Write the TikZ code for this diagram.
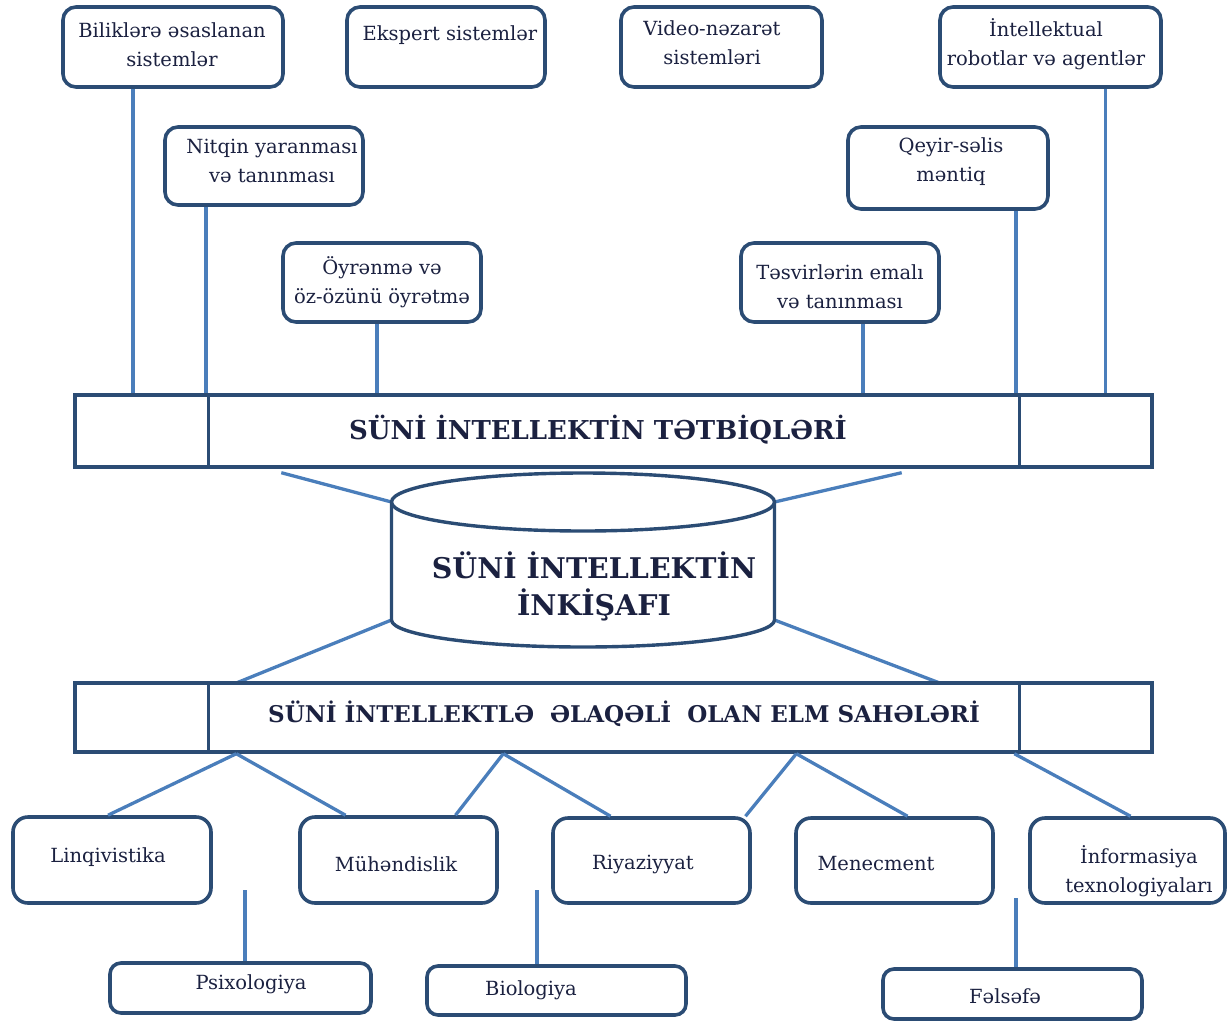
\documentclass[tikz,border=0pt]{standalone}
\usepackage{fontspec}
\setmainfont{DejaVu Serif}
\usetikzlibrary{calc}
\definecolor{boxline}{HTML}{2B4C74}
\definecolor{linkline}{HTML}{4A7EBB}
\definecolor{inktext}{HTML}{1B2140}
\tikzset{
  card/.style={draw=boxline, line width=3.6pt, rounded corners=13pt, fill=white},
  bar/.style={draw=boxline, line width=3.4pt, fill=white},
  divider/.style={draw=boxline, line width=3.4pt},
  lbl/.style={text=inktext, align=center, inner sep=0pt,
    font=\fontsize{19.5}{29}\selectfont},
  ttl/.style={text=inktext, align=center, inner sep=0pt,
    font=\fontsize{26}{37}\selectfont\bfseries},
  link/.style={draw=linkline, line width=3.3pt},
}
\begin{document}
\begin{tikzpicture}[x=1pt, y=-1pt]
\useasboundingbox (0,0) rectangle (1227,1021);

% ---- application cards ----
\node[card, minimum width=220pt, minimum height=80pt] (b1) at (173,47) {};
\node[card, minimum width=198pt, minimum height=80pt] (b2) at (446,47) {};
\node[card, minimum width=201pt, minimum height=80pt] (b3) at (721.5,47) {};
\node[card, minimum width=221pt, minimum height=80pt] (b4) at (1050.5,47) {};
\node[card, minimum width=198pt, minimum height=78pt] (b5) at (264,166) {};
\node[card, minimum width=200pt, minimum height=82pt] (b6) at (948,168) {};
\node[card, minimum width=198pt, minimum height=79pt] (b7) at (382,282.5) {};
\node[card, minimum width=198pt, minimum height=79pt] (b8) at (840,282.5) {};

\node[lbl] (t1) at (172,44.5) {Biliklərə əsaslanan\\sistemlər};
\node[lbl] (t2) at (450,35) {Ekspert sistemlər};
\node[lbl] (t3) at (712,43) {Video-nəzarət\\sistemləri};
\node[lbl] (t4) at (1046,44.5) {İntellektual\\robotlar və agentlər};
\node[lbl] (t5) at (272,161) {Nitqin yaranması\\və tanınması};
\node[lbl] (t6) at (951,161.5) {Qeyir-səlis\\məntiq};
\node[lbl] (t7) at (382,282.5) {Öyrənmə və\\öz-özünü öyrətmə};
\node[lbl] (t8) at (840,286.5) {Təsvirlərin emalı\\və tanınması};

% ---- applications bar ----
\node[bar, minimum width=1077pt, minimum height=72pt] (apps) at (613.5,431) {};
\draw[divider] ([xshift=135pt]apps.north west) -- ([xshift=135pt]apps.south west);
\draw[divider] ([xshift=-134pt]apps.north east) -- ([xshift=-134pt]apps.south east);
\node[ttl] (appst) at (598,430) {SÜNİ İNTELLEKTİN TƏTBİQLƏRİ};

% ---- links from cards to the bar ----
\draw[link] ([xshift=-40pt]b1.south) -- ([xshift=-40pt]b1.south |- apps.north);
\draw[link] ([xshift=-58pt]b5.south) -- ([xshift=-58pt]b5.south |- apps.north);
\draw[link] ([xshift=-5pt]b7.south) -- ([xshift=-5pt]b7.south |- apps.north);
\draw[link] ([xshift=23pt]b8.south) -- ([xshift=23pt]b8.south |- apps.north);
\draw[link] ([xshift=68pt]b6.south) -- ([xshift=68pt]b6.south |- apps.north);
\draw[link] ([xshift=55pt]b4.south) -- ([xshift=55pt]b4.south |- apps.north);

% ---- central cylinder ----
\coordinate (ctl) at (391.5,502);
\coordinate (ctr) at (774.5,502);
\coordinate (cbl) at (391.5,620);
\coordinate (cbr) at (774.5,620);
\draw[link] ([xshift=208pt, yshift=-4pt]apps.south west) -- (ctl);
\draw[link] ([xshift=-252pt, yshift=-4pt]apps.south east) -- (ctr);
\draw[link] (cbl) -- ([xshift=163pt]apps.south west |- 0,683);
\draw[link] (cbr) -- ([xshift=-214pt]apps.south east |- 0,683);
\draw[boxline, line width=3.4pt, fill=white]
  (ctl) -- (cbl) arc[start angle=180, end angle=360, x radius=191.5pt, y radius=27pt]
  -- (ctr);
\draw[boxline, line width=3.4pt, fill=white] (583,502) ellipse[x radius=191.5pt, y radius=29pt];
\node[ttl, font=\fontsize{28.5}{37}\selectfont\bfseries] (core) at (594,586.5) {SÜNİ İNTELLEKTİN\\İNKİŞAFI};

% ---- science bar ----
\node[bar, minimum width=1077pt, minimum height=69pt] (sci) at (613.5,717.5) {};
\draw[divider] ([xshift=135pt]sci.north west) -- ([xshift=135pt]sci.south west);
\draw[divider] ([xshift=-134pt]sci.north east) -- ([xshift=-134pt]sci.south east);
\node[ttl, font=\fontsize{23}{30}\selectfont\bfseries] (scit) at (624,714) {SÜNİ İNTELLEKTLƏ \ ƏLAQƏLİ \ OLAN ELM SAHƏLƏRİ};

% ---- science fields ----
\node[card, rounded corners=15pt, minimum width=198pt, minimum height=86pt] (f1) at (112,860) {};
\node[card, rounded corners=15pt, minimum width=197pt, minimum height=86pt] (f2) at (398.5,860) {};
\node[card, rounded corners=15pt, minimum width=197pt, minimum height=85pt] (f3) at (651.5,860.5) {};
\node[card, rounded corners=15pt, minimum width=197pt, minimum height=85pt] (f4) at (894.5,860.5) {};
\node[card, rounded corners=15pt, minimum width=195pt, minimum height=85pt] (f5) at (1127.5,860.5) {};
\node[card, rounded corners=11pt, minimum width=261pt, minimum height=50pt] (g1) at (240.5,988) {};
\node[card, rounded corners=11pt, minimum width=259pt, minimum height=49pt] (g2) at (556.5,990.5) {};
\node[card, rounded corners=11pt, minimum width=259pt, minimum height=50pt] (g3) at (1012.5,994) {};

\node[lbl] (u1) at (108,857) {Linqivistika};
\node[lbl] (u2) at (396,864) {Mühəndislik};
\node[lbl] (u3) at (643,864) {Riyaziyyat};
\node[lbl] (u4) at (876,864) {Menecment};
\node[lbl] (u5) at (1139,871.5) {İnformasiya\\texnologiyaları};
\node[lbl] (v1) at (251,984) {Psixologiya};
\node[lbl] (v2) at (531,990) {Biologiya};
\node[lbl] (v3) at (1005,996) {Fəlsəfə};

% ---- links from the bar to the fields ----
\coordinate (s1) at ([xshift=163pt]sci.south west);
\coordinate (s2) at ([xshift=430pt]sci.south west);
\coordinate (s3) at ([xshift=723pt]sci.south west);
\coordinate (s4) at ([xshift=941pt]sci.south west);
\draw[link] (s1) -- ([xshift=-4pt]f1.north);
\draw[link] (s1) -- ([xshift=-53pt]f2.north);
\draw[link] (s2) -- ([xshift=57pt]f2.north);
\draw[link] (s2) -- ([xshift=-41pt]f3.north);
\draw[link] (s3) -- ([xshift=94pt]f3.north);
\draw[link] (s3) -- ([xshift=13pt]f4.north);
\draw[link] (s4) -- ([xshift=3pt]f5.north);

% ---- stubs above the lowest fields ----
\coordinate (p1) at (245,890);
\coordinate (p2) at (537,890);
\coordinate (p3) at (1016,898);
\draw[link] (p1) -- (p1 |- g1.north);
\draw[link] (p2) -- (p2 |- g2.north);
\draw[link] (p3) -- (p3 |- g3.north);
\end{tikzpicture}
\end{document}
